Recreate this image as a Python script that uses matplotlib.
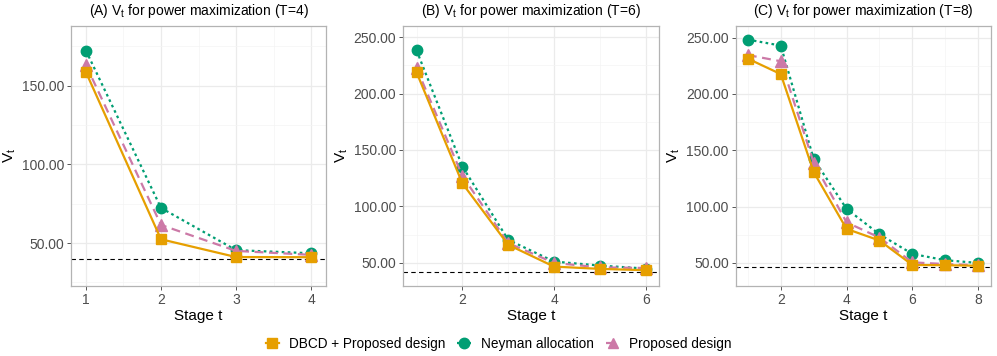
import matplotlib
matplotlib.use("Agg")
import matplotlib.pyplot as plt
from matplotlib.ticker import FormatStrFormatter, MultipleLocator
from matplotlib.lines import Line2D

plt.rcParams['font.family'] = ['Liberation Sans', 'DejaVu Sans']

series_names = ["DBCD + Proposed design", "Neyman allocation", "Proposed design"]

# Panel A (T=4)
stages_A = [1, 2, 3, 4]
dbcd_A = [158.5, 52.4, 41.1, 41.0]
neyman_A = [172.2, 72.3, 45.5, 43.5]
proposed_A = [163.0, 61.5, 45.0, 42.5]
ref_A = 39.6

# Panel B (T=6)
stages_B = [1, 2, 3, 4, 5, 6]
dbcd_B = [218.7, 120.4, 66.0, 46.7, 44.7, 43.5]
neyman_B = [238.2, 135.3, 70.4, 51.2, 47.6, 45.0]
proposed_B = [222.5, 127.0, 67.5, 50.0, 46.0, 45.5]
ref_B = 41.7

# Panel C (T=8)
stages_C = [1, 2, 3, 4, 5, 6, 7, 8]
dbcd_C = [231.3, 217.6, 130.7, 80.2, 69.9, 48.2, 48.0, 47.5]
neyman_C = [248.2, 242.9, 142.3, 98.0, 75.4, 58.0, 52.4, 50.0]
proposed_C = [234.5, 229.0, 139.0, 86.0, 72.5, 50.5, 49.0, 48.0]
ref_C = 46.2

titles = ["(A) V$_\\mathregular{t}$ for power maximization (T=4)",
          "(B) V$_\\mathregular{t}$ for power maximization (T=6)",
          "(C) V$_\\mathregular{t}$ for power maximization (T=8)"]

colors = ["#E69F00", "#009E73", "#CC79A7"]
markers = ["s", "o", "^"]
linestyles = ["-", (0, (1.2, 1.5)), (0, (4, 2.5))]

fig = plt.figure(figsize=(9.97, 3.56), dpi=100)

panels = [
    (stages_A, [dbcd_A, neyman_A, proposed_A], ref_A, [0.0712, 0.1975, 0.2558, 0.7295],
     (0.8, 4.2), (22.9, 187.9), [1, 2, 3, 4], [1.5, 2.5, 3.5]),
    (stages_B, [dbcd_B, neyman_B, proposed_B], ref_B, [0.4045, 0.1975, 0.2565, 0.7295],
     (0.71, 6.29), (29.8, 259.8), [2, 4, 6], [1, 3, 5]),
    (stages_C, [dbcd_C, neyman_C, proposed_C], ref_C, [0.7379, 0.1975, 0.2561, 0.7295],
     (0.63, 8.39), (29.8, 260.3), [2, 4, 6, 8], [1, 3, 5, 7]),
]

for i, (x, ys, ref, rect, xl, yl, xt, xminor) in enumerate(panels):
    ax = fig.add_axes(rect)
    ax.set_facecolor("white")
    for k in [1, 2, 0]:
        ax.plot(x, ys[k], color=colors[k], linestyle=linestyles[k], linewidth=1.6,
                marker=markers[k], markersize=7.5 if k != 2 else 8, zorder=3 + (k == 0))
    ax.axhline(ref, color="black", linestyle=(0, (4, 3)), linewidth=0.8, zorder=2)
    ax.set_xlim(*xl)
    ax.set_ylim(*yl)
    ax.set_xticks(xt)
    ax.set_xticks(xminor, minor=True)
    ax.yaxis.set_major_locator(MultipleLocator(50))
    ax.yaxis.set_minor_locator(MultipleLocator(25))
    ax.yaxis.set_major_formatter(FormatStrFormatter("%.2f"))
    ax.grid(which="major", color="#EBEBEB", linewidth=0.9, zorder=0)
    ax.grid(which="minor", color="#F4F4F4", linewidth=0.5, zorder=0)
    ax.set_axisbelow(True)
    for s in ax.spines.values():
        s.set_color("#B3B3B3")
        s.set_linewidth(0.9)
    ax.tick_params(which="major", length=3, color="#555555", labelsize=10, labelcolor="#4D4D4D", width=0.7, pad=2)
    ax.tick_params(which="minor", length=0)
    ax.set_xlabel("Stage t", fontsize=11, labelpad=2)
    ax.set_ylabel("V$_\\mathregular{t}$", fontsize=11, labelpad=3)
    ax.set_title(titles[i], fontsize=10, pad=8)

handles = [Line2D([0], [0], color=colors[k], linestyle=linestyles[k], linewidth=1.6,
                  marker=markers[k], markersize=7.5) for k in range(3)]
fig.legend(handles, series_names, loc="center", bbox_to_anchor=(0.5, 0.035), ncol=3,
           frameon=False, fontsize=9.8, handlelength=1.0, handletextpad=0.7, columnspacing=0.9)

fig.savefig("out.png", dpi=100)
